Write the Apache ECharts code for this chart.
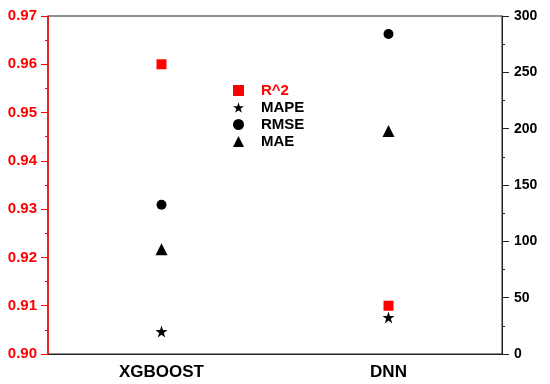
<!DOCTYPE html>
<html>
<head>
<meta charset="utf-8">
<script src="https://cdn.jsdelivr.net/npm/echarts@6/dist/echarts.min.js"></script>
<style>html,body{margin:0;padding:0;background:#fff}#c{width:550px;height:384px}</style>
</head>
<body>
<div id="c"></div>
<script>
const categories = ['XGBOOST', 'DNN'];
const r2 = [0.960, 0.910];
const mape = [20, 32.5];
const rmse = [132.5, 284];
const mae = [93, 198];
const seriesNames = ['R^2', 'MAPE', 'RMSE', 'MAE'];

const starPath = 'path://M50,0 L61.2,34.5 L97.6,34.5 L68.2,55.9 L79.4,90.5 L50,69.1 L20.6,90.5 L31.8,55.9 L2.4,34.5 L38.8,34.5 Z';
const font = 'Liberation Sans, Arial, sans-serif';

const chart = echarts.init(document.getElementById('c'));
chart.setOption({
  animation: false,
  backgroundColor: '#fff',
  grid: { left: 48, right: 48, top: 16, bottom: 30, show: true, borderColor: '#222', borderWidth: 1 },
  legend: {
    orient: 'vertical',
    left: 228, top: 78,
    itemWidth: 11, itemHeight: 11, itemGap: 2,
    textStyle: { fontFamily: font, fontWeight: 'bold', fontSize: 15, color: '#000', padding: [0, 0, 0, 12] },
    data: [
      { name: 'R^2', textStyle: { color: '#ff0000' } },
      { name: 'MAPE' }, { name: 'RMSE' }, { name: 'MAE' }
    ]
  },
  xAxis: {
    type: 'category', data: categories, boundaryGap: true,
    axisLine: { lineStyle: { color: '#222', width: 1 } },
    axisTick: { alignWithLabel: true, length: 6, lineStyle: { color: '#222' } },
    axisLabel: { fontFamily: font, fontWeight: 'bold', fontSize: 17, color: '#000', margin: 10 },
    splitLine: { show: false }
  },
  yAxis: [
    {
      type: 'value', min: 0.9, max: 0.97, interval: 0.01, position: 'left',
      axisLine: { show: true, lineStyle: { color: '#ff0000', width: 1.5 } },
      axisTick: { show: true, length: 7, lineStyle: { color: '#ff0000' } },
      minorTick: { show: true, splitNumber: 2, length: 3, lineStyle: { color: '#ff0000' } },
      axisLabel: { fontFamily: font, fontWeight: 'bold', fontSize: 15, color: '#ff0000', margin: 11,
        formatter: v => v.toFixed(2) },
      splitLine: { show: false }
    },
    {
      type: 'value', min: 0, max: 300, interval: 50, position: 'right',
      axisLine: { show: true, lineStyle: { color: '#222', width: 1 } },
      axisTick: { show: true, length: 7, lineStyle: { color: '#222' } },
      minorTick: { show: true, splitNumber: 2, length: 3, lineStyle: { color: '#222' } },
      axisLabel: { fontFamily: font, fontWeight: 'bold', fontSize: 14, color: '#000', margin: 12 },
      splitLine: { show: false }
    }
  ],
  series: [
    { name: seriesNames[0], type: 'scatter', yAxisIndex: 0, data: r2, symbol: 'rect', symbolSize: 10, itemStyle: { color: '#ff0000', opacity: 1 } },
    { name: seriesNames[1], type: 'scatter', yAxisIndex: 1, data: mape, symbol: starPath, symbolSize: 12, itemStyle: { color: '#000', opacity: 1 } },
    { name: seriesNames[2], type: 'scatter', yAxisIndex: 1, data: rmse, symbol: 'circle', symbolSize: 10, itemStyle: { color: '#000', opacity: 1 } },
    { name: seriesNames[3], type: 'scatter', yAxisIndex: 1, data: mae, symbol: 'triangle', symbolSize: 12, itemStyle: { color: '#000', opacity: 1 } }
  ]
});
</script>
</body>
</html>
